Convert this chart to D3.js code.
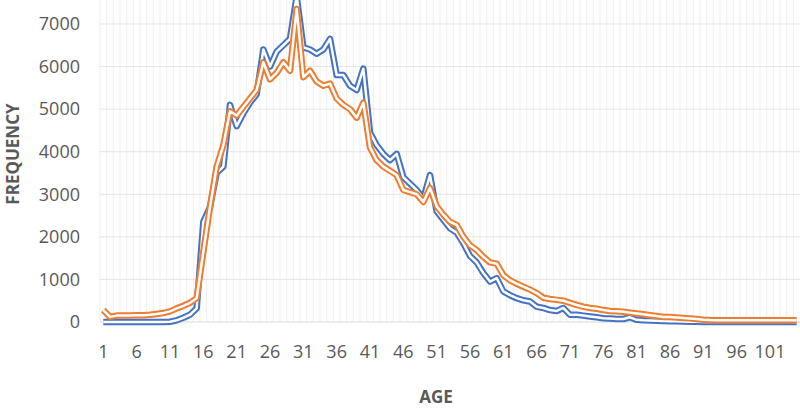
<!DOCTYPE html>
<html>
<head>
<meta charset="utf-8">
<script src="https://cdn.jsdelivr.net/npm/d3@7"></script>
<style>
body{margin:0;background:#fff;}
svg{display:block;}
.tick text{font-family:"Open Sans",sans-serif;font-size:18px;fill:#595959;}
.title{font-family:"Open Sans",sans-serif;font-size:17px;font-weight:bold;fill:#595959;}
</style>
</head>
<body>
<script>
// ages 1..105
const ages = d3.range(1, 106);

const blue = [0,0,0,0,0,0,0,0,0,0,5,40,100,170,320,
  2350,2700,3500,3650,5100,4600,4900,5150,5350,6400,6000,6350,6500,6650,7650,
  6450,6400,6300,6400,6650,5800,5800,5550,5450,5950,4450,4150,3950,3800,3950,
  3400,3250,3100,2900,3450,2600,2400,2200,2100,1850,1550,1400,1150,950,1030,
  720,630,560,510,480,360,330,280,260,330,170,170,150,130,110,
  90,80,70,70,110,50,40,35,30,25,20,15,10,8,5,
  2,2,2,2,2,2,2,2,2,2,2,2,2,2,2];

const orange = [280,120,150,150,150,160,160,170,190,210,250,320,380,450,560,
  1650,2700,3650,4150,4950,4850,5050,5250,5450,6100,5700,5850,6100,5900,7350,
  5750,5900,5650,5550,5600,5250,5100,5000,4800,5150,4100,3800,3650,3550,3450,
  3100,3050,3000,2820,3150,2720,2520,2350,2280,2000,1800,1690,1530,1400,1370,
  1100,980,900,830,760,680,570,540,520,500,450,400,360,330,310,
  280,260,250,240,220,200,180,160,140,120,115,105,95,85,70,
  55,45,42,40,40,40,40,40,40,40,40,40,40,40,40];

const xTicks = d3.range(1, 102, 5);
const yTicks = [0,1000,2000,3000,4000,5000,6000,7000];

const w = 800, h = 419;
const svg = d3.select("body").append("svg")
  .attr("width", w).attr("height", h);

const x = d3.scaleBand().domain(ages).range([100, 800]).padding(0);
const y = d3.scaleLinear().domain([0, 8000]).range([322, -18.6]);
const cx = a => x(a) + x.bandwidth() / 2;

// vertical gridlines
svg.append("g").selectAll("line")
  .data(ages)
  .enter().append("line")
  .attr("x1", d => x(d)).attr("x2", d => x(d))
  .attr("y1", y(8000)).attr("y2", y(0))
  .attr("stroke", "#efefef").attr("stroke-width", 1);

// horizontal gridlines
svg.append("g").selectAll("line")
  .data(yTicks.concat([8000]))
  .enter().append("line")
  .attr("x1", 100).attr("x2", 800)
  .attr("y1", d => y(d)).attr("y2", d => y(d))
  .attr("stroke", d => d === 0 ? "#d9d9d9" : "#e4e4e4").attr("stroke-width", 1);

// axes
const yAxis = d3.axisLeft(y).tickValues(yTicks).tickFormat(d3.format("d"))
  .tickSize(0).tickPadding(20);
svg.append("g").attr("transform", "translate(100,0)").call(yAxis)
  .call(g => g.select(".domain").remove());

const xAxis = d3.axisBottom(x).tickValues(xTicks).tickSize(0);
svg.append("g").attr("transform", "translate(0," + y(0) + ")").call(xAxis)
  .call(g => g.select(".domain").remove())
  .call(g => g.selectAll("text").attr("dy", null).attr("y", 36));

// lines (double line look: colour stroke with white core)
const line = d3.line().x((d, i) => cx(ages[i])).y(d => y(d));
const series = [{v: blue, c: "#4472C4"}, {v: orange, c: "#ED7D31"}];
series.forEach(s => {
  svg.append("path").datum(s.v).attr("d", line)
    .attr("fill", "none").attr("stroke", s.c).attr("stroke-width", 6.5)
    .attr("stroke-linejoin", "round");
  svg.append("path").datum(s.v).attr("d", line)
    .attr("fill", "none").attr("stroke", "#fff").attr("stroke-width", 2.5)
    .attr("stroke-linejoin", "round");
});

// axis titles
svg.append("text").attr("class", "title")
  .attr("x", 436).attr("y", 403).attr("text-anchor", "middle").text("AGE");
svg.append("text").attr("class", "title")
  .attr("transform", "translate(19,154) rotate(-90)")
  .attr("text-anchor", "middle").text("FREQUENCY");
</script>
</body>
</html>
